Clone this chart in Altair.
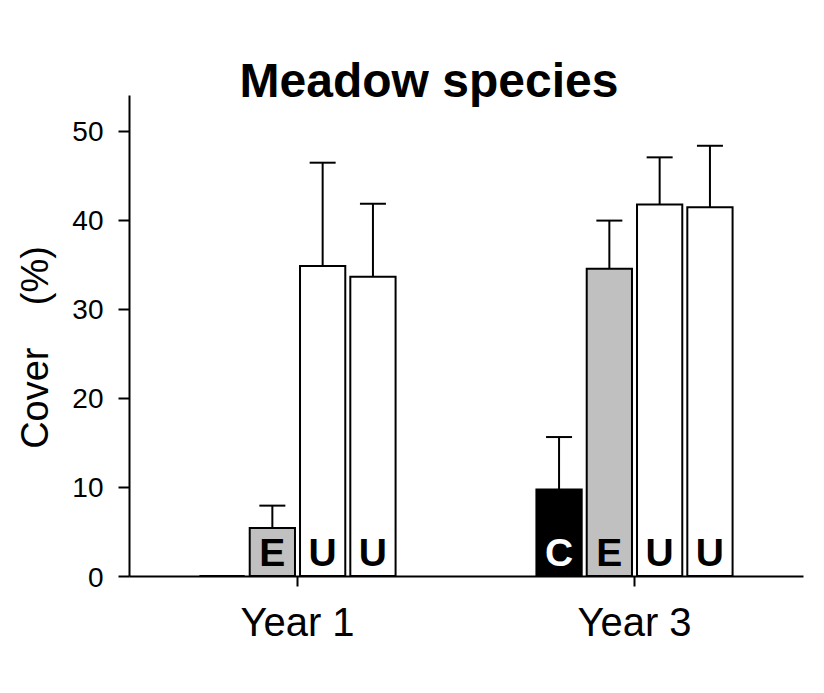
import altair as alt
import pandas as pd

# ---- data ----
years = ["Year 1", "Year 1", "Year 1", "Year 1", "Year 3", "Year 3", "Year 3", "Year 3"]
slots = ["C", "E", "U1", "U2", "C", "E", "U1", "U2"]
letters = ["C", "E", "U", "U", "C", "E", "U", "U"]
means = [0.0, 5.4, 34.8, 33.6, 9.7, 34.5, 41.7, 41.4]
uppers = [None, 7.9, 46.4, 41.8, 15.6, 39.9, 47.0, 48.3]

slot_order = ["C", "E", "U1", "U2"]
fill_colors = ["#000000", "#c0c0c0", "#ffffff", "#ffffff"]
y_ticks = [0, 10, 20, 30, 40, 50]

df = pd.DataFrame({
    "year": years,
    "slot": slots,
    "letter": letters,
    "mean": means,
    "upper": uppers,
})

FONT = "Liberation Sans"

x_enc = alt.X(
    "year:N",
    scale=alt.Scale(paddingInner=0.403, paddingOuter=0.2015),
    axis=alt.Axis(
        title=None, labelAngle=0, labelFontSize=40, labelFont=FONT,
        labelColor="black", tickSize=10, tickWidth=2, tickColor="black",
        domainWidth=2, domainColor="black", labelPadding=17,
    ),
)
xo_enc = alt.XOffset(
    "slot:N",
    scale=alt.Scale(domain=slot_order, paddingInner=0.1, paddingOuter=0.05),
)

y_scale = alt.Scale(domain=[0, 54], nice=False, zero=True)

base = alt.Chart(df).encode(x=x_enc, xOffset=xo_enc)

bars = base.mark_bar(stroke="black", strokeWidth=2).encode(
    y=alt.Y(
        "mean:Q",
        scale=y_scale,
        axis=alt.Axis(
            values=y_ticks, grid=False, title="Cover\u00a0\u00a0\u00a0\u00a0(%)",
            titleFontSize=38, titleFont=FONT, titleFontWeight="normal",
            titleColor="black", titleAngle=270, titleAlign="center",
            titleBaseline="alphabetic", titleX=-82, titleY=252,
            labelFontSize=28, labelFont=FONT, labelColor="black",
            labelPadding=15, labelOffset=2,
            tickSize=11, tickWidth=2, tickColor="black",
            domainWidth=2, domainColor="black",
        ),
    ),
    fill=alt.Fill("slot:N", scale=alt.Scale(domain=slot_order, range=fill_colors), legend=None),
)

rules = base.mark_rule(color="black", strokeWidth=2).encode(
    y=alt.Y("mean:Q", scale=y_scale),
    y2="upper:Q",
).transform_filter("isValid(datum.upper)")

caps = base.mark_tick(color="black", thickness=2, size=26, opacity=1).encode(
    y=alt.Y("upper:Q", scale=y_scale),
).transform_filter("isValid(datum.upper)")

labels = base.mark_text(
    fontSize=39, fontWeight="bold", font=FONT, baseline="alphabetic",
    align="center", dy=-10,
).encode(
    y=alt.datum(0, scale=y_scale),
    text="letter:N",
    color=alt.condition("datum.slot == 'C'", alt.value("white"), alt.value("black")),
)

chart = alt.layer(bars, rules, caps, labels).properties(
    width=674,
    height=481,
    title=alt.Title(
        "Meadow species", fontSize=48, fontWeight="bold", font=FONT,
        color="black", anchor="middle", dx=-37, dy=47,
        baseline="alphabetic", offset=-3,
    ),
    autosize=alt.AutoSizeParams(type="none"),
    padding={"left": 121, "top": 87, "right": 13, "bottom": 109},
).configure(
    font=FONT,
    background="white",
).configure_view(stroke=None)

chart.save("out.html", embed_options={"renderer": "svg", "actions": False})
